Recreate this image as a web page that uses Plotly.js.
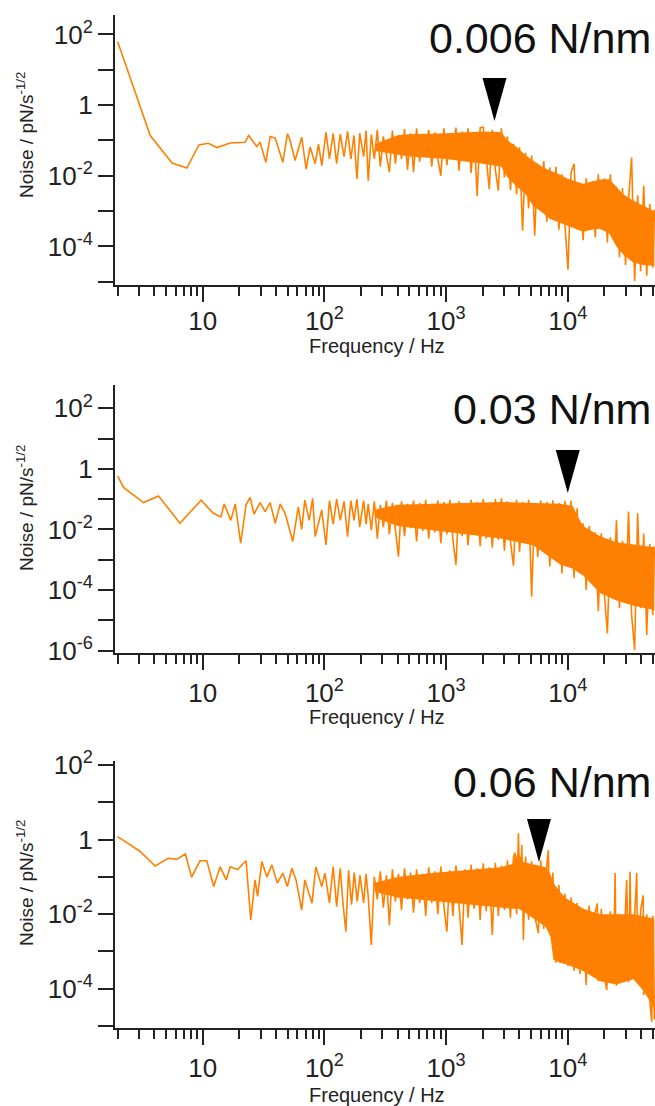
<!DOCTYPE html>
<html><head><meta charset="utf-8">
<script src="https://cdn.plot.ly/plotly-3.0.1.min.js"></script>
<style>html,body{margin:0;padding:0;background:#fff}#chart{width:655px;height:1106px}</style>
</head><body><div id="chart"></div>
<script>
// ---------- Panel 1 : 0.006 N/nm ----------
const p1Freq = [2.0,3.7,5.6,7.4,9.3,11.1,13.1,16.8,22.3,23.8,27.8,29.6,33,35.8,39.4,45.5,49.7,52.2,57.4,65.1,70.7,76.3,83.9,89.3,95.2,103,110,118,126,135,145,155,165,175,185,195,210,220,
229,243,257,272,288,305,323,342,362,383,406,430,455,482,510,540,572,606,642,680,720,762,807,855,905,959,1015,1075,1138,1205,1276,1352,1431,1516,1605,1700,1800,1906,2019,2138,2264,2397,2539,2688,2847,3015,3192,3381,3580,3791,4015,4251,4502,4768,5049,5347,5662,5996,6350,6724,7121,7541,7986,8457,8956,9484,10044,10636,11264,11928,12632,13377,14166,15002,15887,16824,17817,18868,19981,21160,22408,23730,25130,26613,28183,29846,31607,33471,35446,37537,39752,42097,44581,47211,50000,51500];
const p1Noise = [62,0.138,0.023,0.0166,0.075,0.083,0.063,0.085,0.089,0.138,0.068,0.089,0.024,0.129,0.117,0.024,0.155,0.10,0.027,0.123,0.0155,0.065,0.022,0.079,0.0195,0.17,0.03,0.16,0.022,0.15,0.035,0.18,0.03,0.14,0.0081,0.16,0.035,0.19,
0.0072,0.15,0.03,0.2,0.018,0.13,0.04,0.0126,0.19,0.022,
0.14,0.03,0.21,0.015,0.16,0.0126,0.22,0.025,0.15,0.04,
0.2,0.018,0.17,0.03,0.01,0.22,0.02,0.15,0.035,0.23,
0.014,0.18,0.03,0.22,0.012,0.16,0.0027,0.23,0.237,0.025,
0.0042,0.2,0.015,0.0038,0.22,0.009,0.13,0.004,0.08,0.003,
0.065,2.8e-4,0.045,0.0012,0.038,2e-4,0.022,0.0011,0.026,5e-4,
0.017,6e-4,0.018,3e-4,0.011,4e-4,2.2e-5,0.012,0.022,3e-4,
0.006,1.5e-4,0.0085,3e-4,0.007,1.8e-4,0.011,3e-4,0.0085,1.3e-4,
0.011,1.6e-4,0.005,5e-5,0.0045,3e-5,0.0022,0.033,1.05e-5,0.0028,
2e-5,0.0052,1.5e-5,0.0016,2.5e-5,0.0011];
const p1BandFreq = [260,400,500,1000,2000,2850,3200,3800,4500,5200,6000,7160,8500,9770,11500,13400,16000,18400,22000,25100,28500,34400,42000,51500];
const p1BandTop  = [0.08,0.14,0.15,0.16,0.18,0.17,0.1,0.065,0.038,0.026,0.019,0.014,0.011,0.0085,0.007,0.006,0.007,0.0078,0.008,0.0048,0.003,0.002,0.0014,0.001];
const p1BandBot  = [0.05,0.04,0.035,0.03,0.022,0.018,0.009,0.005,0.003,0.0014,0.001,6e-4,5e-4,4e-4,3.2e-4,2.6e-4,3e-4,3.2e-4,2.3e-4,1e-4,6e-5,3.5e-5,3e-5,2.8e-5];

// ---------- Panel 2 : 0.03 N/nm ----------
const p2Freq = [2.0,2.23,3.26,4.33,6.5,9.7,12.2,14.1,15,17,18.5,20.5,22.7,24.5,26.4,29.6,32.6,35.8,39.4,43.3,47.5,55,61,65,69,75,80,84,95,103,110,118,126,135,145,155,165,175,185,195,210,220,
229,243,257,272,288,305,323,342,362,383,406,430,455,482,510,540,572,606,642,680,720,762,807,855,905,959,1015,1075,1138,1205,1276,1352,1431,1516,1605,1700,1800,1906,2019,2138,2264,2397,2539,2688,2847,3015,3192,3381,3580,3791,4015,4251,4502,4768,5049,5347,5662,5996,6350,6724,7121,7541,7986,8457,8956,9484,10044,10636,11264,11928,12632,13377,14166,15002,15887,16824,17817,18868,19981,21160,22408,23730,25130,26613,28183,29846,31607,33471,35446,37537,39752,42097,44581,47211,50000,51500];
const p2Noise = [0.58,0.245,0.077,0.128,0.016,0.093,0.034,0.026,0.069,0.020,0.069,0.0035,0.065,0.115,0.032,0.077,0.039,0.077,0.016,0.069,0.034,0.004,0.056,0.01,0.093,0.020,0.107,0.0058,0.044,0.0031,0.09,0.015,0.1,0.02,0.085,0.0058,0.09,0.02,0.1,0.012,0.09,0.015,
0.07,0.0095,0.085,0.005,0.065,0.012,0.09,0.007,0.075,0.01,
0.00126,0.085,0.006,0.07,0.011,0.09,0.004,0.075,0.009,0.095,
0.005,0.07,0.008,0.09,0.0035,0.08,0.007,0.095,0.0045,6.8e-4,
0.085,0.006,0.07,0.003,0.095,0.007,0.08,0.0028,0.1,0.005,
0.075,0.0025,0.1,0.0045,0.107,0.002,0.085,0.004,6.3e-4,0.095,
0.0018,0.08,0.0035,0.095,6e-5,0.075,0.0012,0.09,0.002,0.08,
6e-4,0.092,0.0011,0.075,3.5e-4,0.088,6e-4,0.09,2.5e-4,0.05,
3.5e-4,0.016,1e-4,0.013,1.8e-4,0.008,2e-5,0.0075,8e-5,3.7e-6,
0.0055,6e-5,0.02,2.5e-5,0.0042,4e-5,0.039,1.5e-5,1.05e-6,0.034,
2.5e-5,0.0074,3.3e-6,0.0033,1.5e-5,0.0028];
const p2BandFreq = [260,400,800,2800,5200,8650,11000,11900,13400,18400,25100,34600,51500];
const p2BandTop  = [0.045,0.065,0.07,0.08,0.075,0.07,0.06,0.03,0.013,0.006,0.0038,0.0032,0.0026];
const p2BandBot  = [0.025,0.013,0.009,0.005,0.003,7e-4,5e-4,4e-4,3e-4,8e-5,4.5e-5,3e-5,2.2e-5];

// ---------- Panel 3 : 0.06 N/nm ----------
const p3Freq = [2.0,3.06,4.06,5.2,6.1,7.2,8.1,9.5,10.8,12.3,13.9,15.6,16.8,19.3,22.7,24.8,26.9,28.2,30.6,33.7,37,41,45.5,49.6,54,58.5,65,69,79,85,95,101,110,118,126,135,142,150,158,167,176,186,196,210,220,
229,243,257,272,288,305,323,342,362,383,406,430,455,482,510,540,572,606,642,680,720,762,807,855,905,959,1015,1075,1138,1205,1276,1352,1431,1516,1605,1700,1800,1906,2019,2138,2264,2397,2539,2688,2847,3015,3192,3381,3580,3690,3800,3930,4050,4190,4320,4502,4768,5049,5347,5730,5996,6350,6724,6920,7121,7541,7986,8457,8956,9484,10044,10636,11264,11928,12632,13377,14166,15002,15887,16824,17500,17817,18868,19981,20900,22408,23730,24500,25130,26613,28183,30500,31607,32500,33471,35446,36900,37537,39752,41700,42097,44581,47211,49000,50000,51500];
const p3Noise = [1.2,0.48,0.195,0.316,0.295,0.41,0.098,0.27,0.27,0.055,0.186,0.083,0.186,0.158,0.27,0.007,0.083,0.03,0.257,0.1,0.21,0.068,0.126,0.055,0.17,0.083,0.0129,0.083,0.0195,0.186,0.055,0.126,0.02,0.19,0.016,0.17,0.02,0.0034,0.15,0.018,0.13,0.022,0.11,0.02,0.12,
0.03,0.0015,0.1,0.025,0.14,0.015,0.11,0.0051,0.16,0.022,
0.12,0.013,0.17,0.025,0.13,0.011,0.16,0.02,0.12,0.009,
0.18,0.02,0.14,0.01,0.19,0.016,0.0034,0.15,0.009,0.2,
0.013,0.0015,0.16,0.008,0.21,0.014,0.17,0.007,0.23,0.012,
0.18,0.00275,0.24,0.009,0.2,0.013,0.28,0.008,0.35,0.44,
0.01,1.48,0.02,0.72,0.002,0.35,0.007,0.26,0.009,0.0031,
0.28,0.004,0.2,0.52,0.003,0.13,5e-4,0.06,6e-4,0.035,
4e-4,0.028,3e-4,0.02,2.5e-4,0.014,1.26e-4,0.017,2.5e-4,0.011,
0.0195,1.6e-4,0.014,2.2e-4,9.3e-5,0.012,1.6e-4,0.126,1.2e-4,0.01,
1.8e-4,0.083,1.5e-4,0.138,2e-4,0.011,0.126,1.4e-4,0.013,0.032,
6.8e-5,0.01,5e-5,1.3e-5,0.009,1.5e-5];
const p3BandFreq = [260,400,800,2800,3500,3930,4300,6600,7200,7630,8600,9800,11860,13400,18400,25100,34600,41700,51500];
const p3BandTop  = [0.07,0.1,0.13,0.18,0.22,0.45,0.25,0.18,0.12,0.07,0.04,0.026,0.018,0.014,0.01,0.01,0.01,0.0088,0.0075];
const p3BandBot  = [0.04,0.028,0.022,0.015,0.014,0.014,0.012,0.0045,0.0025,6e-4,5e-4,4.5e-4,3.5e-4,3e-4,1.6e-4,1.3e-4,1.8e-4,9e-5,3e-5];

// ---------- labels / ticks ----------
const panelLabels = ['0.006 N/nm', '0.03 N/nm', '0.06 N/nm'];
const arrowHz = [2500, 10000, 5800];
const xTickVals = [10, 100, 1000, 10000];
const xTickText = ['10', '10<sup>2</sup>', '10<sup>3</sup>', '10<sup>4</sup>'];
const minorDigits = [2,3,4,5,6,7,8,9];
const minorDecades = [1,10,100,1000,10000];
const yTickVals13 = [1e-4,1e-2,1,100];
const yTickText13 = ['10<sup>-4</sup>', '10<sup>-2</sup>', '1', '10<sup>2</sup>'];
const yMinor13 = [1e-5,1e-3,1e-1,10];
const yTickVals2 = [1e-6,1e-4,1e-2,1,100];
const yTickText2 = ['10<sup>-6</sup>', '10<sup>-4</sup>', '10<sup>-2</sup>', '1', '10<sup>2</sup>'];
const yMinor2 = [1e-5,1e-3,1e-1,10];
const yTitle = 'Noise / pN/s<sup>-1/2</sup>';
const xTitle = 'Frequency / Hz';

// ---------- geometry (pixels of the 655x1106 figure) ----------
const W = 655, H = 1106;
const plotLeft = 115;
const panelsPx = [ {top:15, bot:285, yr:[-5.09, 2.55]}, {top:385, bot:653.3, yr:[-6.09, 2.77]}, {top:760.7, bot:1028.3, yr:[-5.06, 2.115]} ];
const xr = [Math.log10(1.9), 4.717];
const ORANGE = '#FF8000';
const FONT = 'Liberation Sans, Arial, sans-serif';
const INK = '#222';

const xMinor = [];
minorDecades.forEach(d => minorDigits.forEach(m => { if (m*d < 52000) xMinor.push(m*d); }));

const series = [
  {f:p1Freq, v:p1Noise, bf:p1BandFreq, bt:p1BandTop, bb:p1BandBot},
  {f:p2Freq, v:p2Noise, bf:p2BandFreq, bt:p2BandTop, bb:p2BandBot},
  {f:p3Freq, v:p3Noise, bf:p3BandFreq, bt:p3BandTop, bb:p3BandBot}
];

const traces = [];
const layout = {
  width: W, height: H, margin:{l:0,r:0,t:0,b:0}, showlegend:false,
  paper_bgcolor:'#fff', plot_bgcolor:'#fff',
  font:{family:FONT, color:INK},
  annotations: [], shapes: []
};
const ysuf = ['', '2', '3'];
series.forEach((s, i) => {
  const xa = 'x' + ysuf[i], ya = 'y' + ysuf[i];
  traces.push({
    x: s.bf.concat(s.bf.slice().reverse()),
    y: s.bt.concat(s.bb.slice().reverse()),
    xaxis: xa, yaxis: ya, type:'scatter', mode:'lines', fill:'toself',
    fillcolor: ORANGE, line:{width:0, color:ORANGE}, hoverinfo:'skip'
  });
  traces.push({
    x: s.f, y: s.v, xaxis: xa, yaxis: ya, type:'scatter', mode:'lines',
    line:{color:ORANGE, width:1.6}
  });
  const p = panelsPx[i];
  const dom = [1 - p.bot/H, 1 - p.top/H];
  layout['xaxis' + ysuf[i]] = {
    type:'log', range: xr, domain:[plotLeft/W, 1], anchor: ya,
    showline:true, linecolor:INK, linewidth:2, mirror:false,
    ticks:'outside', ticklen:15, tickwidth:2, tickcolor:INK,
    tickmode:'array', tickvals:xTickVals, ticktext:xTickText,
    ticklabelstandoff: i === 0 ? -3 : 0,
    tickfont:{size:26, color:INK, family:FONT},
    minor:{tickmode:'array', tickvals:xMinor, ticks:'outside', ticklen:9, tickwidth:2, tickcolor:INK, showgrid:false},
    showgrid:false, zeroline:false, fixedrange:true
  };
  layout['yaxis' + ysuf[i]] = {
    type:'log', range: p.yr, domain: dom, anchor: xa,
    showline:true, linecolor:INK, linewidth:2,
    ticks:'outside', ticklen:15, tickwidth:2, tickcolor:INK,
    tickmode:'array', tickvals: i === 1 ? yTickVals2 : yTickVals13, ticktext: i === 1 ? yTickText2 : yTickText13,
    minor:{tickmode:'array', tickvals: i === 1 ? yMinor2 : yMinor13, ticks:'outside', ticklen:15, tickwidth:2, tickcolor:INK, showgrid:false},
    tickfont:{size:26, color:INK, family:FONT},
    showgrid:false, zeroline:false, fixedrange:true
  };
  // panel label
  const labelY = [38, 409, 782][i];
  layout.annotations.push({xref:'paper', yref:'paper', x:653/W, y:1 - labelY/H, xanchor:'right', yanchor:'middle',
    text: panelLabels[i], showarrow:false, font:{size:43, color:'#111', family:FONT}});
  // y title
  const ytY = [135, 508, 883][i];
  layout.annotations.push({xref:'paper', yref:'paper', x:25/W, y:1 - ytY/H, xanchor:'center', yanchor:'middle',
    textangle:-90, text: yTitle, showarrow:false, font:{size:19, color:INK, family:FONT}});
  // x title
  const xtY = [346, 717, 1095][i];
  layout.annotations.push({xref:'paper', yref:'paper', x:376.7/W, y:1 - xtY/H, xanchor:'center', yanchor:'middle',
    text: xTitle, showarrow:false, font:{size:20, color:INK, family:FONT}});
  // arrow marker (triangle) above the corner frequency
  const cx = plotLeft + (Math.log10(arrowHz[i]) - xr[0]) / (xr[1] - xr[0]) * (W - plotLeft);
  const tip = [121, 493, 862][i];
  const top = tip - 43, hw = 12;
  const P = (px, py) => (px / W).toFixed(5) + ',' + (1 - py / H).toFixed(5);
  layout.shapes.push({type:'path', xref:'paper', yref:'paper',
    path: 'M' + P(cx - hw, top) + ' L' + P(cx + hw, top) + ' L' + P(cx, tip) + ' Z',
    fillcolor:'#000', line:{width:0}});
});

Plotly.newPlot('chart', traces, layout, {displayModeBar:false, staticPlot:true});
</script></body></html>
